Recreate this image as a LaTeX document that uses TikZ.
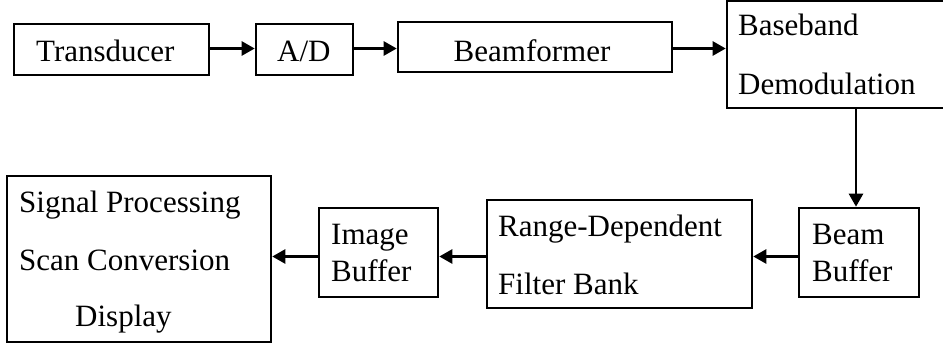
\documentclass[tikz,border=0pt]{standalone}
\usepackage{fontspec}
\setmainfont{Liberation Serif}
\usetikzlibrary{arrows.meta}
\begin{document}
\begin{tikzpicture}[x=1pt,y=-1pt,
  box/.style={draw, line width=2.6pt, inner sep=0pt, rectangle},
  lbl/.style={anchor=base west, inner sep=0pt, font=\fontsize{31}{31}\selectfont},
  flow/.style={line width=2.6pt, -{Triangle[length=13pt,width=14pt]}}]
\useasboundingbox (0,0) rectangle (943,347);

% blocks of the signal chain
\node[box, minimum width=195pt, minimum height=51pt] (td) at (111.5,49.5) {};
\node[box, minimum width=97pt, minimum height=51pt] (ad) at (304.5,49.5) {};
\node[box, minimum width=274pt, minimum height=50pt] (bf) at (535,47) {};
\node[box, minimum width=219pt, minimum height=107pt] (bb) at (836.5,54.5) {};
\node[box, minimum width=120pt, minimum height=89pt] (beam) at (859,252.5) {};
\node[box, minimum width=265pt, minimum height=108pt] (rng) at (619.5,254) {};
\node[box, minimum width=119pt, minimum height=89pt] (img) at (378.5,252.5) {};
\node[box, minimum width=264pt, minimum height=166pt] (sig) at (139,259) {};

% labels
\node[lbl] (t1) at (36,62) {Transducer};
\node[lbl] (t2) at (277,62) {A/D};
\node[lbl, anchor=base] (t3) at (532,62) {Beamformer};
\node[lbl] (t4) at (738,36) {Baseband};
\node[lbl] (t5) at (738,95) {Demodulation};
\node[lbl] (t6) at (812,245) {Beam};
\node[lbl] (t7) at (812,282) {Buffer};
\node[lbl] (t8) at (498,237) {Range-Dependent};
\node[lbl] (t9) at (498,295) {Filter Bank};
\node[lbl] (t10) at (331,245) {Image};
\node[lbl] (t11) at (331,282) {Buffer};
\node[lbl] (t12) at (19,213) {Signal Processing};
\node[lbl] (t13) at (19,271) {Scan Conversion};
\node[lbl] (t14) at (75,327) {Display};

% connectors
\coordinate (r1) at (0,48.5);
\draw[flow] (td.east |- r1) -- (ad.west |- r1);
\draw[flow] (ad.east |- r1) -- (bf.west |- r1);
\draw[flow] (bf.east |- r1) -- (bb.west |- r1);
\coordinate (c1) at (856,0);
\draw[flow] (bb.south -| c1) -- (beam.north -| c1);
\coordinate (r2) at (0,256.5);
\draw[flow] (beam.west |- r2) -- (rng.east |- r2);
\draw[flow] (rng.west |- r2) -- (img.east |- r2);
\draw[flow] (img.west |- r2) -- (sig.east |- r2);
\end{tikzpicture}
\end{document}
